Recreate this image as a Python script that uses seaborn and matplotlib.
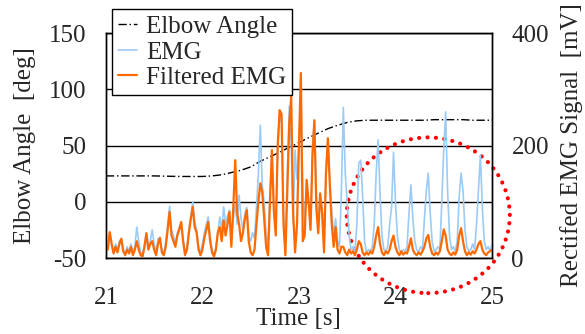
# IMPORT LIBRARIES
import numpy as np
import matplotlib
matplotlib.use("Agg")
import matplotlib.pyplot as plt
from matplotlib.patches import Ellipse
import seaborn as sns

# DATA

# time axis of the EMG traces, 0.02 s steps from 21 s to 25 s
emg_time = np.round(np.arange(21.0, 25.0001, 0.02), 2)

# raw rectified EMG [mV]
emg_raw = [
    15, 25, 45, 20, 10, 25, 15, 30, 35, 15,
    8, 20, 12, 25, 10, 20, 55, 30, 10, 5,
    25, 45, 20, 30, 50, 25, 10, 35, 30, 15,
    8, 30, 60, 92, 50, 40, 25, 45, 55, 62,
    35, 10, 20, 50, 75, 100, 65, 50, 20, 10,
    25, 45, 60, 73, 40, 15, 5, 20, 45, 73,
    50, 91, 60, 75, 85, 40, 70, 95, 60, 112,
    70, 50, 80, 90, 40, 30, 45, 35, 90, 150,
    236, 130, 100, 40, 25, 120, 180, 90, 60, 190,
    255, 240, 80, 30, 150, 270, 200, 60, 192, 140,
    200, 300, 120, 60, 135, 100, 60, 200, 245, 120,
    50, 110, 90, 30, 150, 210, 140, 80, 40, 70,
    30, 20, 120, 268, 150, 100, 40, 15, 20, 12,
    60, 169, 174, 110, 30, 10, 15, 12, 20, 60,
    150, 210, 115, 40, 15, 12, 20, 60, 91, 188,
    100, 40, 15, 10, 15, 12, 20, 80, 130, 70,
    30, 15, 10, 20, 15, 70, 120, 151, 80, 30,
    12, 15, 20, 15, 100, 192, 260, 120, 40, 15,
    20, 12, 30, 110, 151, 120, 50, 20, 12, 15,
    25, 15, 60, 120, 183, 90, 30, 15, 20, 12,
    25,
]

# filtered EMG [mV]
emg_filtered = [
    20, 15, 46, 25, 8, 20, 10, 25, 34, 12,
    5, 15, 8, 20, 5, 15, 30, 15, 5, 3,
    20, 44, 15, 25, 30, 15, 5, 25, 36, 10,
    5, 20, 50, 82, 40, 30, 20, 40, 50, 64,
    30, 5, 15, 45, 70, 91, 55, 45, 15, 5,
    15, 35, 50, 64, 30, 10, 3, 15, 46, 55,
    30, 67, 40, 60, 82, 20, 90, 174, 80, 60,
    30, 45, 70, 85, 30, 10, 5, 15, 60, 100,
    133, 117, 70, 20, 5, 100, 192, 85, 40, 200,
    263, 256, 60, 5, 120, 240, 287, 80, 10, 60,
    200, 329, 30, 40, 139, 100, 50, 180, 245, 90,
    44, 115, 80, 10, 150, 213, 130, 60, 20, 55,
    15, 8, 20, 20, 10, 5, 15, 8, 12, 5,
    15, 30, 25, 10, 5, 10, 6, 12, 8, 20,
    40, 55, 25, 10, 5, 12, 8, 15, 30, 40,
    20, 10, 5, 12, 6, 10, 8, 20, 35, 15,
    8, 5, 10, 6, 12, 20, 35, 41, 20, 8,
    5, 10, 6, 12, 30, 51, 40, 15, 8, 5,
    10, 6, 15, 40, 53, 30, 12, 5, 10, 6,
    12, 8, 15, 25, 30, 15, 8, 5, 10, 12,
    15,
]

# elbow angle [deg], 0.1 s steps
angle_time = np.round(np.arange(21.0, 25.0001, 0.1), 1)
elbow_angle = [
    23, 23, 23, 23, 23, 23, 22.8, 22.6, 22.5, 22.5,
    22.5, 23, 24, 26, 28, 31, 36, 40, 44, 48.5,
    52.5, 57, 61, 65, 68, 70.5, 72, 72.5, 72.5, 72.5,
    72.5, 72.5, 72.5, 72.5, 73, 73, 73, 73, 72.5, 72.5,
    72.5,
]

x_ticks = [21, 22, 23, 24, 25]
angle_ticks = [-50, 0, 50, 100, 150]
emg_ticks = [0, 200, 400]

# highlighted region (red dotted ellipse), in EMG axis units
ring_center = (24.34, 76)
ring_width = 1.69
ring_height = 277


# STYLE

sns.set_style("white")
plt.rcParams["font.family"] = ["Liberation Serif", "DejaVu Serif"]
plt.rcParams["axes.unicode_minus"] = False
plt.rcParams["font.size"] = 18


# PLOT

fig = plt.figure(figsize=(5.85, 3.34), dpi=100)
ax = fig.add_axes([0.181, 0.2275, 0.66, 0.6735])
ax2 = ax.twinx()

sns.lineplot(x=angle_time, y=elbow_angle, ax=ax, color="black",
             linewidth=1.0, linestyle=(0, (6, 2, 1, 2)), label="Elbow Angle")
sns.lineplot(x=emg_time, y=emg_raw, ax=ax2, color="#9ccbf5",
             linewidth=1.2, label="EMG")
sns.lineplot(x=emg_time, y=emg_filtered, ax=ax2, color="#ff6a00",
             linewidth=1.6, label="Filtered EMG")

# axes ranges and ticks
ax.set_xlim(21, 25)
ax.set_ylim(-50, 150)
ax2.set_ylim(0, 400)
ax.set_xticks(x_ticks)
ax.set_yticks(angle_ticks)
ax2.set_yticks(emg_ticks)
ax.set_yticklabels([str(v) for v in angle_ticks])
ax2.set_yticklabels([str(v) for v in emg_ticks])

ax.yaxis.grid(True, color="black", linewidth=1.0)
ax.tick_params(axis="x", direction="in", length=4, width=1, pad=21,
               labelsize=18, top=False)
ax.tick_params(axis="y", length=0, pad=14, labelsize=18)
ax2.tick_params(axis="y", length=0, pad=14, labelsize=18)

for a in (ax, ax2):
    for s in a.spines.values():
        s.set_color("black")
        s.set_linewidth(1.0)

ax.set_xlabel("Time [s]", fontsize=18, labelpad=-1)
ax.set_ylabel("Elbow Angle  [deg]", fontsize=18, labelpad=9)
ax2.set_ylabel("Rectifed EMG Signal  [mV]", fontsize=18, labelpad=8)

# red dotted ring
ring = Ellipse(ring_center, ring_width, ring_height, fill=False,
               edgecolor="red", linewidth=3.0,
               linestyle=(0, (0.01, 2.0)), capstyle="round", clip_on=False)
ax2.add_patch(ring)

# combined legend
ax.get_legend().remove()
h1, l1 = ax.get_legend_handles_labels()
h2, l2 = ax2.get_legend_handles_labels()
leg = ax2.legend(h1 + h2, l1 + l2, loc="upper left",
                 bbox_to_anchor=(0.016, 1.105), borderaxespad=0,
                 fontsize=18, frameon=True, fancybox=False, framealpha=1,
                 edgecolor="black", handlelength=0.75, handletextpad=0.35,
                 labelspacing=0.12, borderpad=0.25)
leg.get_frame().set_linewidth(1.0)

plt.savefig("out.png", dpi=100)
